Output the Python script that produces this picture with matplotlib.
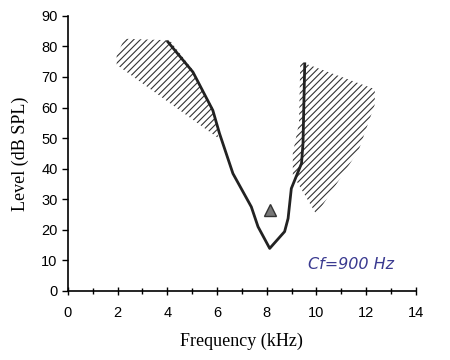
import numpy as np
import matplotlib.pyplot as plt
from matplotlib.patches import Polygon
from matplotlib.ticker import MultipleLocator

# tuning curve (kHz, dB SPL)
freq = [4.02, 5.03, 5.83, 6.10, 6.64, 7.38, 7.65, 8.12, 8.72, 8.86, 8.99, 9.40, 9.46, 9.53]
level = [81.5, 71.6, 59.1, 51.5, 38.4, 27.5, 21.0, 13.9, 19.4, 23.7, 33.5, 41.7, 48.2, 74.3]

# characteristic frequency marker
cf_freq = [8.15]
cf_level = [26.4]

# hatched areas
left_x = [2.27, 4.1, 5.0, 5.85, 6.05, 1.96, 1.96]
left_y = [82.5, 82.0, 72.5, 59.5, 50.0, 74.0, 77.0]
right_x = [9.35, 12.35, 12.35, 11.7, 10.0, 9.05, 9.05, 9.3]
right_y = [75.0, 66.0, 61.0, 46.0, 25.0, 38.0, 45.0, 55.0]

plt.rcParams['hatch.linewidth'] = 0.8

fig = plt.figure(figsize=(4.5, 3.6), dpi=100)
ax = fig.add_axes([0.151, 0.192, 0.773, 0.764])

for xs, ys in [(left_x, left_y), (right_x, right_y)]:
    ax.add_patch(Polygon(np.column_stack([xs, ys]), closed=True, facecolor='none',
                         edgecolor='#333333', linewidth=0, hatch='/////'))

ax.plot(freq, level, color='#222222', linewidth=2)
ax.plot(cf_freq, cf_level, marker='^', markersize=8, color='#777777',
        markeredgecolor='#333333', linestyle='none')

ax.text(11.4, 8.5, 'Cf=900 Hz', color='#3a3a90', fontsize=11.5, style='italic',
        ha='center', va='center', family='DejaVu Sans')

ax.set_xlim(0, 14)
ax.set_ylim(0, 90)
ax.xaxis.set_major_locator(MultipleLocator(2))
ax.xaxis.set_minor_locator(MultipleLocator(1))
ax.yaxis.set_major_locator(MultipleLocator(10))
for s in ['top', 'right']:
    ax.spines[s].set_visible(False)
for s in ['left', 'bottom']:
    ax.spines[s].set_linewidth(1.2)
ax.tick_params(axis='x', which='both', direction='inout', length=6, width=1, pad=8)
ax.tick_params(axis='x', which='minor', length=5)
ax.tick_params(axis='y', direction='out', length=4, width=1)
for lab in ax.get_xticklabels() + ax.get_yticklabels():
    lab.set_family('Liberation Sans')
    lab.set_fontsize(10.5)

ax.set_xlabel('Frequency (kHz)', family='Liberation Serif', fontsize=13, labelpad=9)
ax.set_ylabel('Level (dB SPL)', family='Liberation Serif', fontsize=13, labelpad=9)

fig.savefig('out.png', dpi=100)
